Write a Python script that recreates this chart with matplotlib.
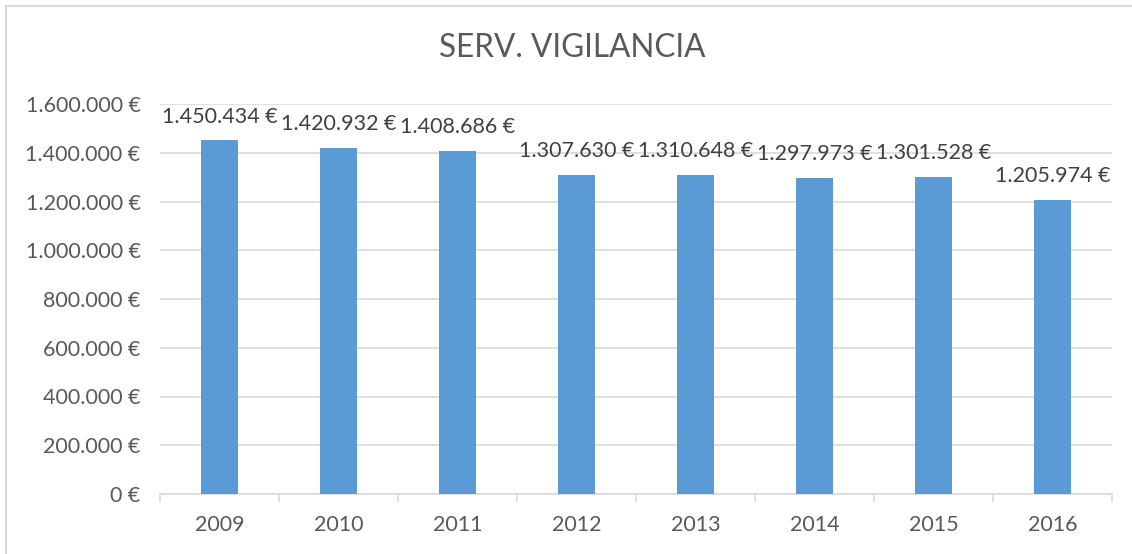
import numpy as np
import matplotlib.pyplot as plt
from matplotlib.lines import Line2D
from matplotlib.ticker import FuncFormatter

plt.rcParams['font.family'] = ['Lato', 'DejaVu Sans']

# data
years = ["2009", "2010", "2011", "2012", "2013", "2014", "2015", "2016"]
values = [1450434, 1420932, 1408686, 1307630, 1310648, 1297973, 1301528, 1205974]
yticks = [0, 200000, 400000, 600000, 800000, 1000000, 1200000, 1400000, 1600000]


def euro(v, pos=None):
    # spanish style thousands separator
    return "{:,.0f} €".format(v).replace(",", ".")


fig = plt.figure(figsize=(11.32, 5.54), dpi=100)
ax = fig.add_axes([160 / 1132, 60 / 554, 952 / 1132, 390 / 554])

x = np.arange(len(years))
ax.bar(x, values, width=0.31, color="#5B9BD5", zorder=3)

# data labels
for xi, v in zip(x, values):
    ax.annotate(euro(v), (xi, v), xytext=(0, 10), textcoords="offset points",
                ha="center", va="bottom", fontsize=15.5, color="#404040")

ax.set_xlim(-0.5, len(years) - 0.5)
ax.set_ylim(0, 1600000)
ax.set_yticks(yticks)
ax.yaxis.set_major_formatter(FuncFormatter(euro))
ax.grid(axis="y", color="#D9D9D9", linewidth=1.2, zorder=0)

# category ticks sit between the bars
ax.set_xticks(x)
ax.set_xticklabels(years)
ax.set_xticks(np.arange(-0.5, len(years)), minor=True)
ax.tick_params(axis="x", which="major", length=0, pad=15, labelsize=15.5, labelcolor="#595959")
ax.tick_params(axis="x", which="minor", length=6, width=1.2, color="#D9D9D9")
ax.tick_params(axis="y", length=0, pad=14, labelsize=15.5, labelcolor="#595959")

for s in ["top", "right", "left"]:
    ax.spines[s].set_visible(False)
ax.spines["bottom"].set_color("#D9D9D9")
ax.spines["bottom"].set_linewidth(1.2)

fig.text(572 / 1132, 1 - 48 / 554, "SERV. VIGILANCIA", ha="center", va="center",
         fontsize=22.7, color="#595959")

# chart border (top and left edges visible)
fig.add_artist(Line2D([5.5 / 1132, 5.5 / 1132, 1.0], [0.0, 1 - 5.5 / 554, 1 - 5.5 / 554],
                      transform=fig.transFigure, color="#D9D9D9", linewidth=1.5))

plt.savefig("out.png", dpi=100)
plt.close("all")
